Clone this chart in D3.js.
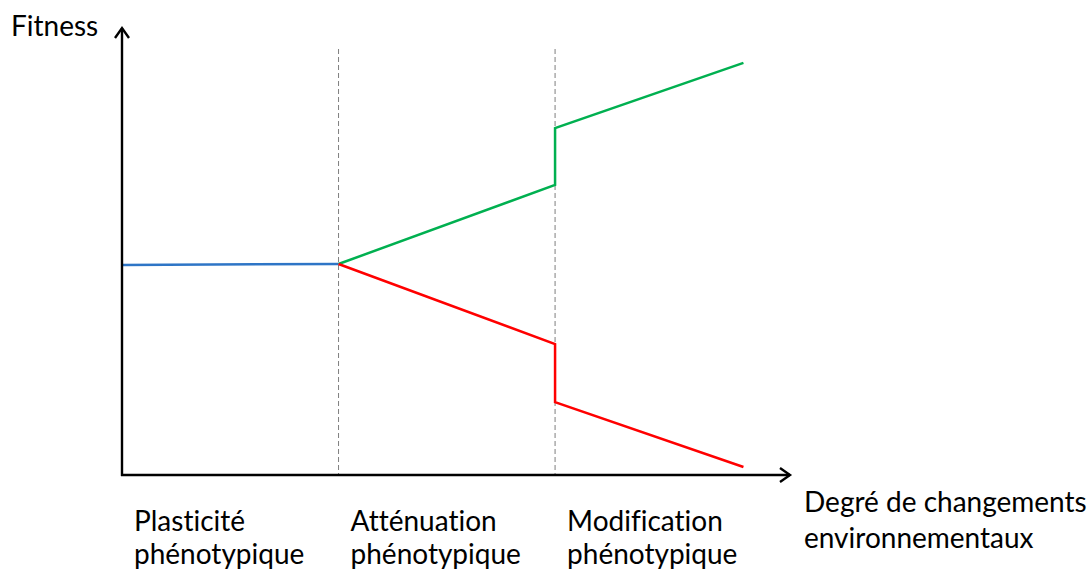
<!DOCTYPE html>
<html>
<head>
<meta charset="utf-8">
<script src="https://cdn.jsdelivr.net/npm/d3@7"></script>
<style>
  html, body { margin: 0; padding: 0; background: #fff; }
  svg { display: block; }
  text { font-family: Lato, "Open Sans", sans-serif; fill: #000; font-variant-ligatures: none; font-feature-settings: "liga" 0, "clig" 0; }
</style>
</head>
<body>
<script>
// ---- data ----
const stageBounds = [0, 1, 2];
const stageLabels = [["Plasticité", "phénotypique"], ["Atténuation", "phénotypique"], ["Modification", "phénotypique"]];
const xAxisLabel = ["Degré de changements", "environnementaux"];
const yAxisLabel = "Fitness";
const blueX = [0, 1];
const blueY = [47.0, 47.2];
const greenX = [1, 2, 2, 2.87];
const greenY = [47.2, 64.9, 77.6, 92.2];
const redX = [1, 2, 2, 2.87];
const redY = [47.2, 29.3, 16.3, 1.8];
const dividerX = [1, 2];
const dividerTop = 95.3;
const xMax = 3.085;
const yMax = 100;

// ---- layout ----
const W = 1091, H = 569;
const svg = d3.select("body").append("svg").attr("width", W).attr("height", H);
const x = d3.scaleLinear().domain([0, xMax]).range([122, 790]);
const y = d3.scaleLinear().domain([0, yMax]).range([475, 28]);

// dashed dividers
svg.selectAll("line.div").data(dividerX).enter().append("line")
  .attr("x1", d => x(d)).attr("x2", d => x(d))
  .attr("y1", y(dividerTop)).attr("y2", y(0))
  .attr("stroke", "#7f7f7f").attr("stroke-width", 1).attr("stroke-dasharray", "5,3");

// series
const line = d3.line().x(d => x(d[0])).y(d => y(d[1]));
const series = [
  { xs: blueX, ys: blueY, color: "#2e75c6" },
  { xs: greenX, ys: greenY, color: "#00b050" },
  { xs: redX, ys: redY, color: "#ff0000" }
];
series.forEach(s => {
  svg.append("path")
    .attr("d", line(s.xs.map((v, i) => [v, s.ys[i]])))
    .attr("fill", "none").attr("stroke", s.color).attr("stroke-width", 2.5)
    .attr("stroke-linejoin", "miter");
});

// axes
const ax = svg.append("g").attr("stroke", "#000").attr("stroke-width", 2.4).attr("fill", "none");
ax.append("line").attr("x1", x(0)).attr("x2", x(0)).attr("y1", y(0) + 1).attr("y2", y(yMax));
ax.append("line").attr("x1", x(0) - 1).attr("x2", x(xMax)).attr("y1", y(0)).attr("y2", y(0));
ax.append("path").attr("d", `M${x(0) - 7},${y(yMax) + 10} L${x(0)},${y(yMax)} L${x(0) + 7},${y(yMax) + 10}`);
ax.append("path").attr("d", `M${x(xMax) - 10},${y(0) - 7} L${x(xMax)},${y(0)} L${x(xMax) - 10},${y(0) + 7}`);

// text
const fs = 28;
svg.append("text").attr("x", 11).attr("y", 36).attr("font-size", fs).text(yAxisLabel);

const stageText = svg.selectAll("text.stage").data(stageBounds).enter().append("text")
  .attr("class", "stage").attr("font-size", fs)
  .attr("x", d => x(d) + 12).attr("y", 531);
stageText.append("tspan").text((d, i) => stageLabels[i][0]);
stageText.append("tspan").attr("x", d => x(d) + 12).attr("dy", 33).text((d, i) => stageLabels[i][1]);

const xl = svg.append("text").attr("x", 804).attr("y", 512).attr("font-size", fs);
xl.append("tspan").text(xAxisLabel[0]);
xl.append("tspan").attr("x", 804).attr("dy", 36).text(xAxisLabel[1]);
</script>
</body>
</html>
